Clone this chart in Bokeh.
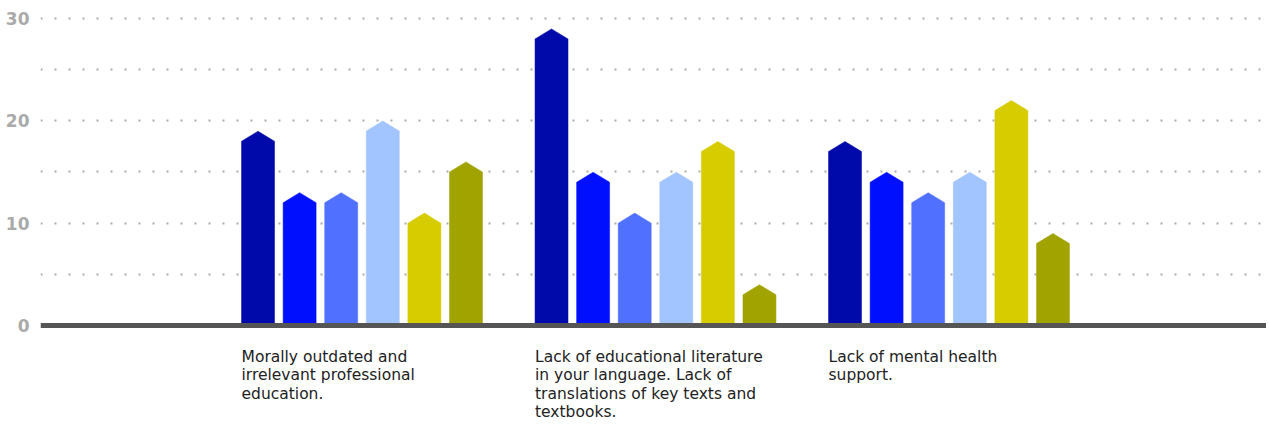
from bokeh.plotting import figure
from bokeh.models import Range1d, Span, FixedTicker, ColumnDataSource
from bokeh.core.properties import value
from bokeh.embed import file_html
from bokeh.resources import INLINE

categories = [
    "Morally outdated and\nirrelevant professional\neducation.",
    "Lack of educational literature\nin your language. Lack of\ntranslations of key texts and\ntextbooks.",
    "Lack of mental health\nsupport.",
]
series_1 = [18, 28, 17]
series_2 = [12, 14, 14]
series_3 = [12, 10, 12]
series_4 = [19, 14, 14]
series_5 = [10, 17, 21]
series_6 = [15, 3, 8]
series = [series_1, series_2, series_3, series_4, series_5, series_6]
colors = ["#0009a9", "#0010ff", "#5070ff", "#a2c4ff", "#d6cc00", "#a0a300"]
y_ticks = [0, 10, 20, 30]

BAR_W = 0.1124
STEP = 0.1417
TIP = 0.98

p = figure(width=1266, height=422, output_backend="svg", toolbar_location=None,
           x_range=Range1d(-1.0954, 3.0818), y_range=Range1d(-9.48, 30.78),
           min_border_left=40, min_border_right=0, min_border_top=10, min_border_bottom=0)
p.outline_line_color = None
p.xaxis.visible = False
p.xgrid.visible = False

p.yaxis.ticker = FixedTicker(ticks=y_ticks)
p.yaxis.axis_line_color = None
p.yaxis.major_tick_line_color = None
p.yaxis.minor_tick_line_color = None
p.yaxis.major_tick_out = 0
p.yaxis.major_tick_in = 0
p.yaxis.major_label_standoff = 11
p.yaxis.major_label_text_font = "DejaVu Sans"
p.yaxis.major_label_text_font_style = "bold"
p.yaxis.major_label_text_font_size = "17px"
p.yaxis.major_label_text_color = "#aaaaaa"

p.ygrid.ticker = FixedTicker(ticks=[5, 10, 15, 20, 25, 30])
p.ygrid.grid_line_color = "#aaaaaa"
p.ygrid.grid_line_width = 2
p.ygrid.grid_line_dash = "2 12"

for i, (vals, col) in enumerate(zip(series, colors)):
    xs, ys = [], []
    for g, v in enumerate(vals):
        cx = g + (i - 2.5) * STEP
        l, r = cx - BAR_W / 2, cx + BAR_W / 2
        xs.append([l, l, cx, r, r])
        ys.append([0, v, v + TIP, v, 0])
    p.patches(xs=xs, ys=ys, fill_color=col, line_color=col, line_width=0.5)

p.add_layout(Span(location=0, dimension="width", line_color="#555555", line_width=5))

label_x = [g - 2.5 * STEP - BAR_W / 2 for g in range(len(categories))]
src = ColumnDataSource(dict(x=label_x, y=[-2.2] * len(categories), t=categories))
p.text(x="x", y="y", text="t", source=src, text_font=value("DejaVu Sans"),
       text_font_size="15.5px", text_color="#222222", text_baseline="top",
       text_align="left", text_line_height=1.02)

open("out.html", "w").write(file_html(p, INLINE))
